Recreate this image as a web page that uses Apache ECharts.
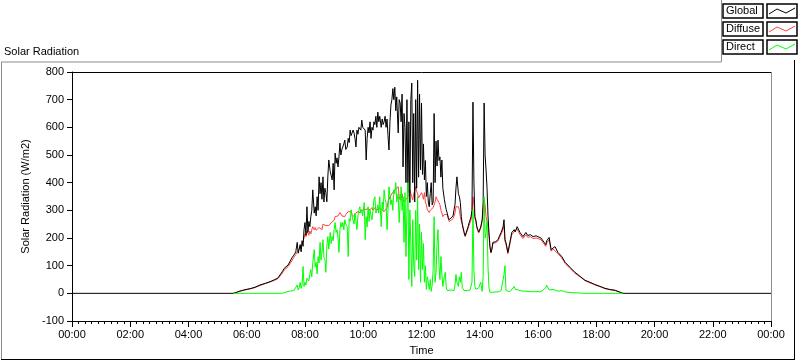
<!DOCTYPE html>
<html>
<head>
<meta charset="utf-8">
<script src="https://cdn.jsdelivr.net/npm/echarts@6/dist/echarts.min.js"></script>
<style>
  html, body { margin: 0; padding: 0; background: #fff; }
  #main { width: 800px; height: 361px; }
</style>
</head>
<body>
<div id="main"></div>
<script>
// minutes of the day
const times = [
  0, 332, 338, 346, 356, 367, 377, 387, 398, 408, 418, 424, 428, 433, 437, 441, 445, 449, 453, 457,
  461, 464, 466, 468, 470, 472, 474, 476, 478, 480, 482, 484, 486, 488, 490, 492, 494, 496, 499, 501,
  503, 505, 507, 509, 511, 513, 515, 517, 519, 521, 523, 525, 527, 529, 532, 534, 536, 538, 540, 542,
  544, 546, 548, 550, 552, 554, 556, 558, 560, 562, 564, 567, 569, 571, 573, 575, 577, 579, 581, 583,
  585, 587, 589, 591, 593, 595, 597, 599, 602, 604, 606, 608, 610, 612, 614, 616, 618, 620, 622, 624,
  626, 628, 630, 632, 634, 637, 639, 641, 643, 645, 647, 649, 651, 653, 655, 657, 659, 661, 663, 665,
  667, 669, 672, 674, 676, 678, 680, 682, 684, 686, 688, 690, 692, 694, 696, 698, 700, 702, 704, 706,
  708, 710, 712, 714, 716, 718, 720, 722, 724, 726, 728, 730, 732, 734, 736, 738, 740, 742, 744, 746,
  748, 750, 752, 754, 756, 758, 760, 762, 764, 767, 769, 771, 773, 775, 777, 781, 785, 787, 789, 791,
  793, 796, 798, 800, 802, 804, 806, 808, 810, 812, 814, 816, 818, 820, 822, 824, 826, 828, 830, 832,
  834, 836, 838, 840, 842, 845, 847, 849, 851, 853, 855, 857, 859, 861, 863, 865, 867, 871, 873, 878,
  880, 884, 886, 888, 890, 892, 894, 898, 902, 906, 911, 913, 917, 923, 929, 935, 939, 944, 950, 956,
  960, 966, 970, 976, 978, 983, 987, 991, 995, 1001, 1009, 1016, 1026, 1036, 1047, 1057, 1067, 1077, 1088, 1098,
  1108, 1119, 1129, 1135, 1440
];

const globalVals = [
  0, 0, 3, 8, 13, 17, 22, 30, 36, 42, 50, 55, 62, 78, 90, 84, 102, 98, 128, 138,
  150, 184, 145, 160, 176, 150, 190, 170, 230, 256, 210, 313, 220, 260, 241, 277, 300, 374, 290, 313,
  280, 349, 300, 421, 360, 400, 340, 421, 330, 380, 364, 331, 420, 482, 440, 446, 410, 470, 374, 507,
  470, 490, 457, 493, 543, 500, 520, 518, 540, 554, 520, 529, 560, 545, 590, 570, 565, 590, 580, 560,
  529, 590, 575, 600, 601, 590, 626, 600, 601, 590, 482, 560, 600, 580, 620, 560, 600, 590, 620, 610,
  640, 600, 655, 620, 640, 600, 630, 610, 620, 640, 600, 630, 570, 518, 620, 680, 700, 740, 700, 745,
  660, 710, 580, 700, 688, 620, 720, 457, 650, 600, 400, 700, 364, 620, 328, 700, 760, 400, 650, 330,
  700, 380, 770, 420, 720, 446, 688, 430, 540, 410, 480, 350, 400, 330, 313, 360, 400, 320, 330, 650,
  400, 550, 460, 554, 480, 493, 420, 482, 380, 340, 320, 302, 290, 275, 266, 259, 280, 302, 320, 380,
  421, 360, 350, 328, 277, 250, 235, 220, 208, 202, 215, 241, 255, 265, 277, 300, 691, 400, 277, 265,
  241, 230, 222, 220, 240, 266, 330, 688, 500, 446, 380, 280, 220, 170, 148, 160, 184, 180, 187, 195,
  205, 220, 225, 240, 266, 194, 184, 148, 184, 220, 230, 222, 241, 220, 205, 220, 209, 212, 205, 208,
  205, 200, 194, 176, 190, 202, 158, 165, 169, 148, 133, 112, 94, 76, 61, 47, 40, 32, 25, 18,
  14, 11, 4, 0, 0
];

const diffuseVals = [
  null, 0, 3, 8, 12, 16, 21, 28, 35, 41, 48, 53, 58, 72, 84, 80, 96, 94, 118, 130,
  140, 150, 145, 150, 165, 160, 180, 190, 200, 215, 205, 225, 220, 210, 225, 215, 230, 241, 230, 238,
  228, 235, 230, 238, 232, 240, 230, 250, 245, 256, 245, 250, 240, 245, 241, 255, 250, 260, 265, 277,
  270, 272, 280, 285, 292, 285, 280, 278, 275, 277, 285, 290, 295, 300, 302, 295, 285, 280, 277, 285,
  290, 295, 292, 295, 292, 300, 302, 305, 302, 302, 300, 305, 300, 298, 302, 305, 310, 300, 305, 310,
  305, 300, 305, 310, 313, 305, 310, 300, 295, 292, 300, 310, 330, 349, 340, 355, 350, 360, 370, 374,
  378, 380, 385, 350, 338, 345, 360, 340, 330, 328, 340, 345, 349, 360, 374, 360, 350, 338, 360, 370,
  385, 370, 360, 345, 338, 350, 364, 355, 340, 364, 330, 320, 302, 295, 292, 300, 302, 305, 310, 313,
  330, 349, 340, 335, 328, 320, 300, 290, 277, 285, 290, 292, 285, 270, 259, 256, 270, 277, 290, 313,
  320, 313, 300, 277, 260, 250, 230, 215, 205, 198, 210, 235, 245, 255, 265, 290, 349, 320, 270, 260,
  238, 226, 218, 215, 235, 262, 300, 338, 320, 277, 270, 241, 210, 165, 146, 158, 180, 176, 183, 190,
  200, 214, 220, 230, 245, 188, 178, 143, 178, 212, 224, 218, 232, 212, 198, 212, 202, 205, 198, 200,
  198, 194, 188, 170, 182, 194, 152, 160, 164, 144, 128, 108, 90, 73, 59, 46, 38, 31, 24, 17,
  13, 10, 4, 0, null
];

const directVals = [
  null, 0, 0, 0, 0, 0, 0, 0, 0, 0, 0, 0, 0, 0, 2, 5, 4, 8, 6, 10,
  14, 30, 12, 20, 40, 18, 30, 97, 25, 40, 30, 55, 61, 45, 70, 86, 60, 110, 158, 95,
  112, 70, 133, 110, 184, 120, 150, 194, 130, 122, 76, 170, 205, 160, 220, 180, 205, 190, 230, 256,
  220, 230, 200, 148, 230, 256, 240, 256, 230, 266, 250, 241, 133, 270, 260, 302, 280, 277, 250, 290,
  292, 230, 280, 300, 313, 290, 302, 280, 328, 194, 277, 240, 313, 260, 302, 280, 266, 300, 340, 349,
  290, 302, 320, 290, 349, 241, 330, 300, 374, 340, 328, 230, 300, 385, 350, 320, 338, 300, 374, 360,
  400, 330, 360, 256, 328, 385, 300, 349, 184, 364, 133, 300, 400, 50, 302, 180, 25, 266, 100, 61,
  300, 120, 349, 86, 250, 40, 220, 86, 180, 40, 100, 14, 60, 40, 14, 50, 7, 30, 86, 277,
  40, 76, 180, 230, 100, 50, 133, 70, 25, 60, 76, 20, 10, 7, 10, 12, 15, 10, 30, 68,
  40, 25, 60, 40, 76, 20, 15, 10, 8, 5, 10, 8, 10, 12, 14, 40, 302, 80, 25, 14,
  14, 10, 20, 30, 40, 7, 60, 349, 200, 220, 260, 97, 20, 4, 4, 4, 4, 4, 5, 5,
  5, 10, 8, 14, 68, 100, 10, 6, 6, 10, 25, 15, 12, 10, 8, 8, 8, 6, 6, 6,
  8, 6, 8, 20, 29, 12, 8, 14, 8, 8, 10, 5, 3, 2, 1, 0, 0, 0, 0, 0,
  0, 0, 0, 0, null
];

const seriesNames = ['Global', 'Diffuse', 'Direct'];
const seriesColors = ['#000000', '#ff4040', '#00ff00'];
const xTickLabels = ['00:00', '02:00', '04:00', '06:00', '08:00', '10:00', '12:00',
  '14:00', '16:00', '18:00', '20:00', '22:00', '00:00'];

const font = 'Liberation Sans';
let myChart = echarts.init(document.getElementById('main'));

function pairs(vals) {
  return times.map((t, i) => [t, vals[i]]);
}

// legend rows drawn as LabVIEW-style boxes
let legendGraphics = [];
seriesNames.forEach((name, i) => {
  let y = 4 + i * 18;
  legendGraphics.push(
    { type: 'rect', shape: { x: 723, y: y, width: 40, height: 14 },
      style: { fill: '#fff', stroke: '#000', lineWidth: 1.5 } },
    { type: 'text', x: 726, y: y + 1,
      style: { text: name, fill: '#000', font: '11px ' + font } },
    { type: 'rect', shape: { x: 767, y: y, width: 30, height: 14 },
      style: { fill: '#fff', stroke: '#000', lineWidth: 1.5 } },
    { type: 'polyline', shape: { points: [[769, y + 10], [777, y + 5], [786, y + 9], [795, y + 4]] },
      style: { stroke: seriesColors[i], lineWidth: 1, fill: null } }
  );
});

let option = {
  backgroundColor: '#fff',
  animation: false,
  textStyle: { fontFamily: font },
  title: {
    text: 'Solar Radiation',
    left: 4, top: 46, padding: 0,
    textStyle: { fontSize: 11, fontWeight: 'normal', color: '#000', fontFamily: font }
  },
  grid: { left: 72, top: 72, width: 699, height: 250 },
  xAxis: {
    type: 'value',
    min: 0, max: 1440, interval: 120,
    name: 'Time',
    nameLocation: 'middle',
    nameGap: 24,
    nameTextStyle: { fontSize: 11, color: '#000' },
    axisLine: { onZero: false, lineStyle: { color: '#000', width: 1 } },
    axisTick: { length: 6, lineStyle: { color: '#000' } },
    minorTick: { show: true, splitNumber: 9, length: 3, lineStyle: { color: '#000' } },
    splitLine: { show: false },
    axisLabel: {
      fontSize: 11, color: '#000', margin: 8,
      formatter: v => xTickLabels[Math.round(v / 120)]
    }
  },
  yAxis: {
    type: 'value',
    min: -100, max: 800, interval: 100,
    name: 'Solar Radiation (W/m2)',
    nameLocation: 'middle',
    nameGap: 33,
    nameTextStyle: { fontSize: 11, color: '#000' },
    axisLine: { show: true, lineStyle: { color: '#000', width: 1 } },
    axisTick: { show: true, length: 5, lineStyle: { color: '#000' } },
    splitLine: { show: false },
    axisLabel: { fontSize: 11, color: '#000', margin: 8 }
  },
  graphic: [
    // panel frame
    { type: 'line', shape: { x1: 1, y1: 62, x2: 721, y2: 62 }, style: { stroke: '#8c8c8c', lineWidth: 1 } },
    { type: 'line', shape: { x1: 1.5, y1: 62, x2: 1.5, y2: 359 }, style: { stroke: '#8c8c8c', lineWidth: 1 } },
    { type: 'line', shape: { x1: 721.5, y1: 0, x2: 721.5, y2: 62 }, style: { stroke: '#8c8c8c', lineWidth: 1 } },
    { type: 'line', shape: { x1: 1, y1: 359.5, x2: 795, y2: 359.5 }, style: { stroke: '#000', lineWidth: 1 } },
    { type: 'line', shape: { x1: 794.5, y1: 60, x2: 794.5, y2: 360 }, style: { stroke: '#000', lineWidth: 1 } },
    // plot frame (top / right)
    { type: 'line', shape: { x1: 72, y1: 72.5, x2: 771, y2: 72.5 }, style: { stroke: '#000', lineWidth: 1 } },
    { type: 'line', shape: { x1: 771.5, y1: 72, x2: 771.5, y2: 322 }, style: { stroke: '#8c8c8c', lineWidth: 1 } }
  ].concat(legendGraphics),
  series: [
    {
      name: 'Global', type: 'line', data: pairs(globalVals), z: 3,
      showSymbol: false, lineStyle: { color: seriesColors[0], width: 1 }
    },
    {
      name: 'Diffuse', type: 'line', data: pairs(diffuseVals), z: 2,
      showSymbol: false, lineStyle: { color: seriesColors[1], width: 1 }
    },
    {
      name: 'Direct', type: 'line', data: pairs(directVals), z: 4,
      showSymbol: false, lineStyle: { color: seriesColors[2], width: 1 }
    }
  ]
};
myChart.setOption(option);
</script>
</body>
</html>
